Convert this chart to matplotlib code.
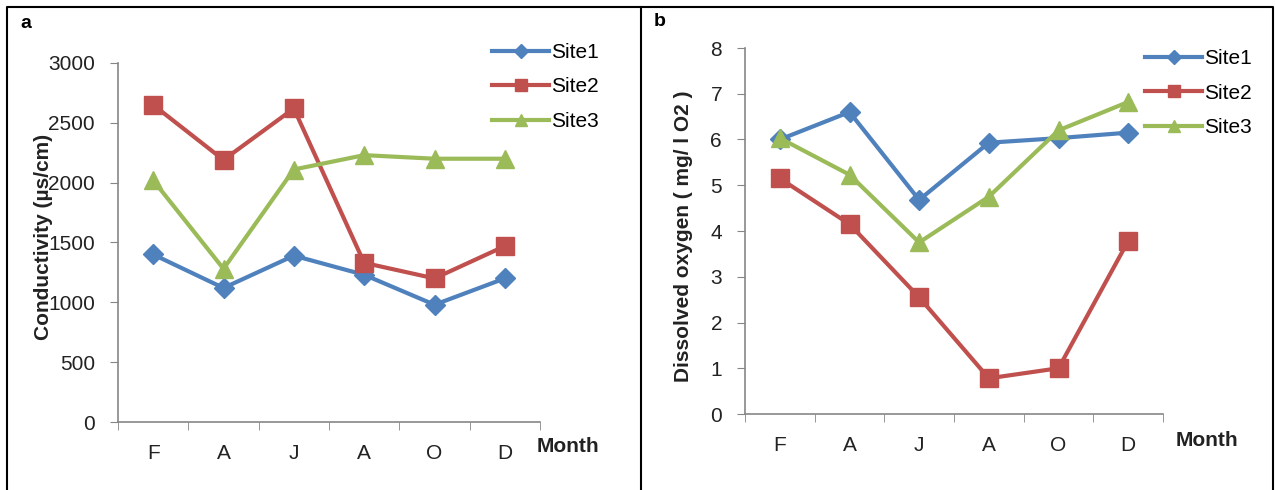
import matplotlib
matplotlib.use("Agg")
import matplotlib.pyplot as plt
from matplotlib.lines import Line2D
from matplotlib.patches import Rectangle

plt.rcParams['font.family'] = ['Liberation Sans', 'DejaVu Sans']

months = ["F", "A", "J", "A", "O", "D"]
sites = ["Site1", "Site2", "Site3"]

# conductivity (µs/cm)
cond_site1 = [1400, 1120, 1390, 1230, 980, 1200]
cond_site2 = [2650, 2190, 2620, 1330, 1200, 1470]
cond_site3 = [2020, 1280, 2110, 2230, 2200, 2200]

# dissolved oxygen (mg/l O2)
do_site1 = [6.0, 6.6, 4.68, 5.93, 6.03, 6.15]
do_site2 = [5.15, 4.15, 2.55, 0.78, 1.0, 3.78]
do_site3 = [6.03, 5.23, 3.75, 4.75, 6.2, 6.82]

colors = ["#4F81BD", "#C0504D", "#9BBB59"]
markers = ["D", "s", "^"]
msizes = [10, 13, 13]
axis_gray = "#868686"
text_col = "#222222"

W, H = 1275, 490
fig = plt.figure(figsize=(W / 100, H / 100), dpi=100)


def fx(px):
    return px / W


def fy(py):
    return 1 - py / H


def draw_panel(ax, series, ymax, ystep, ylabel, label_xy, legend_xy):
    x = range(len(months))
    for vals, name, c, m, ms in zip(series, sites, colors, markers, msizes):
        ax.plot(x, vals, color=c, marker=m, markersize=ms, linewidth=3, label=name)
    ax.set_xlim(-0.5, len(months) - 0.5)
    ax.set_ylim(0, ymax)
    ax.set_yticks([i * ystep for i in range(int(round(ymax / ystep)) + 1)])
    ax.set_xticks(list(x))
    ax.set_xticklabels(months)
    ax.set_xticks([i - 0.5 for i in range(len(months) + 1)], minor=True)
    ax.tick_params(axis='x', which='major', length=0, pad=16, labelsize=15, labelcolor=text_col)
    ax.tick_params(axis='x', which='minor', length=6, color=axis_gray, direction='out')
    ax.tick_params(axis='y', length=5.5, pad=11, color=axis_gray, labelsize=15, labelcolor=text_col)
    for s in ["top", "right"]:
        ax.spines[s].set_visible(False)
    for s in ["left", "bottom"]:
        ax.spines[s].set_color(axis_gray)
        ax.spines[s].set_linewidth(1.2)
    ax.set_ylabel(ylabel, fontsize=15, fontweight='bold', color=text_col)
    ax.yaxis.set_label_coords(*label_xy)
    ax.legend(loc='center left', bbox_to_anchor=legend_xy, bbox_transform=fig.transFigure,
              frameon=False, fontsize=15, handlelength=2.75, handletextpad=0.1,
              labelspacing=0.75, borderpad=0, borderaxespad=0, markerscale=0.7)


ax_a = fig.add_axes([fx(118), fy(422), fx(540) - fx(118), fy(63) - fy(422)])
draw_panel(ax_a, [cond_site1, cond_site2, cond_site3], 3000, 500,
           "Conductivity (µs/cm)", (-0.155, 0.515), (fx(492), fy(87)))
fig.text(fx(568), fy(446), "Month", fontsize=15, fontweight='bold', color=text_col,
         ha='center', va='center')

ax_b = fig.add_axes([fx(745), fy(414), fx(1163) - fx(745), fy(48) - fy(414)])
draw_panel(ax_b, [do_site1, do_site2, do_site3], 8, 1,
           "Dissolved oxygen ( mg/ l O2 )", (-0.124, 0.486), (fx(1145), fy(93)))
fig.text(fx(1207), fy(440), "Month", fontsize=15, fontweight='bold', color=text_col,
         ha='center', va='center')

# panel letters
fig.text(fx(20), fy(23), "a", fontsize=14, fontweight='bold', va='center')
fig.text(fx(654), fy(21), "b", fontsize=14, fontweight='bold', va='center')

# month letters are cut off at the bottom in the original
fig.add_artist(Rectangle((fx(120), fy(478)), fx(530) - fx(120), fy(459) - fy(478),
                         transform=fig.transFigure, facecolor="white", edgecolor="none", zorder=10))
fig.add_artist(Rectangle((fx(750), fy(472)), fx(1160) - fx(750), fy(453) - fy(472),
                         transform=fig.transFigure, facecolor="white", edgecolor="none", zorder=10))

# outer frame and divider
fig.add_artist(Line2D([fx(7), fx(7), fx(1273), fx(1273)], [0, fy(7), fy(7), 0],
                      color="black", linewidth=1.5, transform=fig.transFigure))
fig.add_artist(Line2D([fx(641), fx(641)], [0, fy(7)], color="black",
                      linewidth=1.5, transform=fig.transFigure))

fig.savefig("out.png", dpi=100)
